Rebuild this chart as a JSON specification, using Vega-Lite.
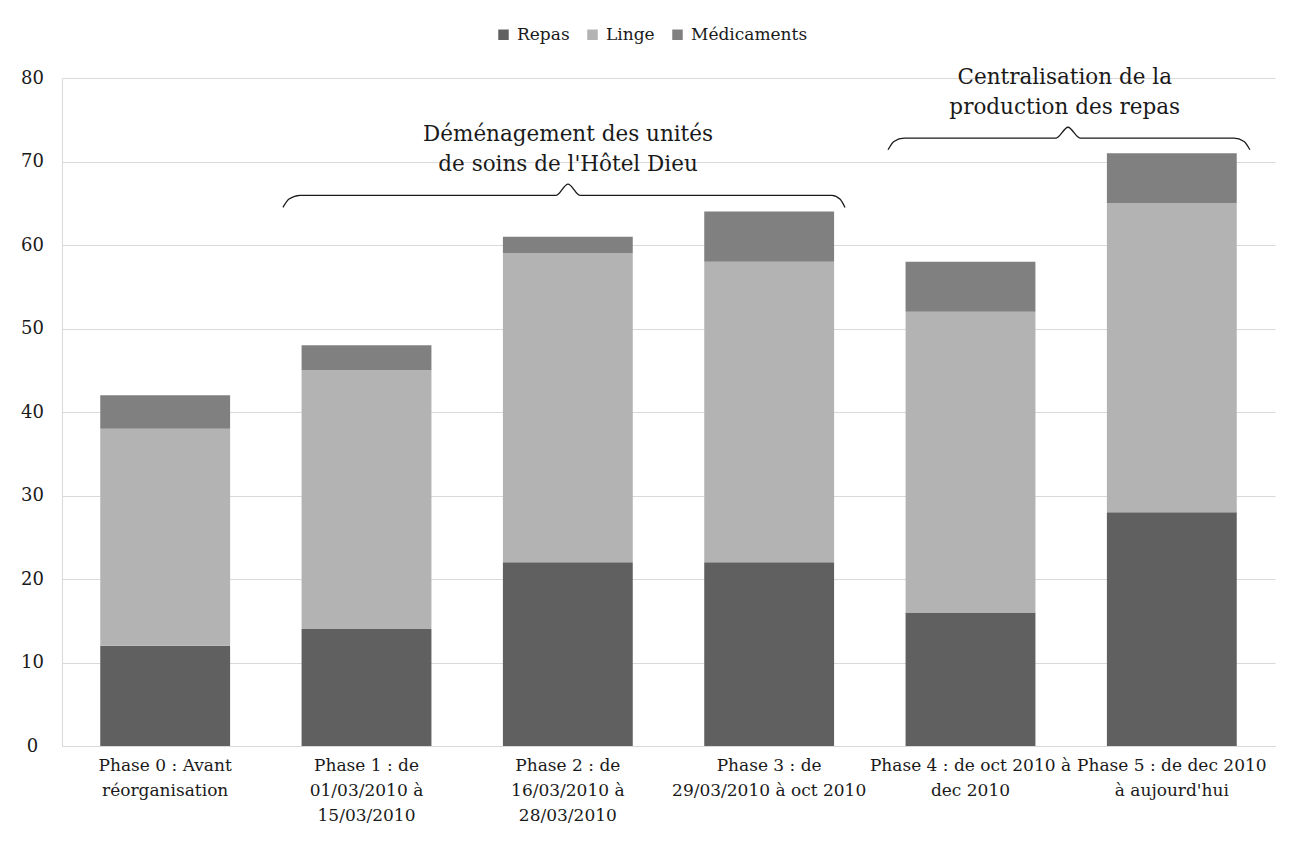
{
  "$schema": "https://vega.github.io/schema/vega-lite/v6.json",
  "width": 1213,
  "height": 668,
  "autosize": "none",
  "padding": {"left": 62, "top": 78, "right": 25, "bottom": 99},
  "background": "white",
  "config": {
    "font": "DejaVu Serif",
    "view": {"stroke": null},
    "axis": {"labelFont": "DejaVu Serif", "labelColor": "#1a1a1a"},
    "legend": {"labelFont": "DejaVu Serif", "labelColor": "#1a1a1a"}
  },
  "datasets": {
    "bars": [
      {"phase": "Phase 0 : Avant|réorganisation", "serie": "Repas", "rang": 1, "valeur": 12},
      {"phase": "Phase 0 : Avant|réorganisation", "serie": "Linge", "rang": 2, "valeur": 26},
      {"phase": "Phase 0 : Avant|réorganisation", "serie": "Médicaments", "rang": 3, "valeur": 4},
      {"phase": "Phase 1 : de|01/03/2010 à|15/03/2010", "serie": "Repas", "rang": 1, "valeur": 14},
      {"phase": "Phase 1 : de|01/03/2010 à|15/03/2010", "serie": "Linge", "rang": 2, "valeur": 31},
      {"phase": "Phase 1 : de|01/03/2010 à|15/03/2010", "serie": "Médicaments", "rang": 3, "valeur": 3},
      {"phase": "Phase 2 : de|16/03/2010 à|28/03/2010", "serie": "Repas", "rang": 1, "valeur": 22},
      {"phase": "Phase 2 : de|16/03/2010 à|28/03/2010", "serie": "Linge", "rang": 2, "valeur": 37},
      {"phase": "Phase 2 : de|16/03/2010 à|28/03/2010", "serie": "Médicaments", "rang": 3, "valeur": 2},
      {"phase": "Phase 3 : de|29/03/2010 à oct 2010", "serie": "Repas", "rang": 1, "valeur": 22},
      {"phase": "Phase 3 : de|29/03/2010 à oct 2010", "serie": "Linge", "rang": 2, "valeur": 36},
      {"phase": "Phase 3 : de|29/03/2010 à oct 2010", "serie": "Médicaments", "rang": 3, "valeur": 6},
      {"phase": "Phase 4 : de oct 2010 à|dec 2010", "serie": "Repas", "rang": 1, "valeur": 16},
      {"phase": "Phase 4 : de oct 2010 à|dec 2010", "serie": "Linge", "rang": 2, "valeur": 36},
      {"phase": "Phase 4 : de oct 2010 à|dec 2010", "serie": "Médicaments", "rang": 3, "valeur": 6},
      {"phase": "Phase 5 : de dec 2010|à aujourd'hui", "serie": "Repas", "rang": 1, "valeur": 28},
      {"phase": "Phase 5 : de dec 2010|à aujourd'hui", "serie": "Linge", "rang": 2, "valeur": 37},
      {"phase": "Phase 5 : de dec 2010|à aujourd'hui", "serie": "Médicaments", "rang": 3, "valeur": 6}
    ],
    "braces": [
      {"b": "A", "x": 1.093, "y": 64.5},
      {"b": "A", "x": 1.123, "y": 65.5},
      {"b": "A", "x": 1.177, "y": 65.95},
      {"b": "A", "x": 2.444, "y": 65.95},
      {"b": "A", "x": 2.503, "y": 67.3},
      {"b": "A", "x": 2.562, "y": 65.95},
      {"b": "A", "x": 3.809, "y": 65.95},
      {"b": "A", "x": 3.848, "y": 65.5},
      {"b": "A", "x": 3.873, "y": 64.5},
      {"b": "B", "x": 4.086, "y": 71.4},
      {"b": "B", "x": 4.115, "y": 72.4},
      {"b": "B", "x": 4.165, "y": 72.8},
      {"b": "B", "x": 4.917, "y": 72.8},
      {"b": "B", "x": 4.976, "y": 74.1},
      {"b": "B", "x": 5.036, "y": 72.8},
      {"b": "B", "x": 5.797, "y": 72.8},
      {"b": "B", "x": 5.847, "y": 72.4},
      {"b": "B", "x": 5.876, "y": 71.4}
    ],
    "notes": [
      {"x": 2.503, "y": 73.2, "t": "Déménagement  des unités"},
      {"x": 2.503, "y": 69.6, "t": "de soins de l'Hôtel Dieu"},
      {"x": 4.96, "y": 80.0, "t": "Centralisation de la"},
      {"x": 4.96, "y": 76.4, "t": "production des repas"}
    ]
  },
  "resolve": {"scale": {"x": "independent"}},
  "layer": [
    {
      "data": {"name": "bars"},
      "mark": {"type": "bar"},
      "encoding": {
        "x": {
          "field": "phase", "type": "nominal", "sort": null,
          "scale": {"paddingInner": 0.355, "paddingOuter": 0.19},
          "axis": {
            "title": null, "labelAngle": 0, "labelExpr": "split(datum.label, '|')",
            "labelFontSize": 17, "labelLineHeight": 25, "labelPadding": 11,
            "ticks": false, "domainColor": "#d9d9d9", "labelBaseline": "top", "labelLimit": 300
          }
        },
        "y": {
          "field": "valeur", "type": "quantitative", "stack": "zero",
          "scale": {"domain": [0, 80], "nice": false},
          "axis": {
            "title": null, "values": [0, 10, 20, 30, 40, 50, 60, 70, 80],
            "ticks": false, "labelAlign": "center", "labelPadding": 30,
            "labelFontSize": 18, "gridColor": "#d9d9d9", "domainColor": "#d9d9d9"
          }
        },
        "color": {
          "field": "serie", "type": "nominal",
          "sort": ["Repas", "Linge", "Médicaments"],
          "scale": {"domain": ["Repas", "Linge", "Médicaments"], "range": ["#606060", "#b3b3b3", "#808080"]},
          "legend": {
            "title": null, "orient": "none", "direction": "horizontal",
            "legendX": 433, "legendY": -52, "symbolType": "square", "symbolSize": 110,
            "symbolStrokeWidth": 0, "labelFontSize": 17, "columnPadding": 14, "labelOffset": 5
          }
        },
        "order": {"field": "rang", "type": "quantitative", "sort": "ascending"}
      }
    },
    {
      "data": {"name": "braces"},
      "mark": {"type": "line", "interpolate": "monotone", "color": "#1a1a1a", "strokeWidth": 1.3, "clip": false},
      "encoding": {
        "x": {"field": "x", "type": "quantitative", "scale": {"domain": [0, 6], "nice": false}, "axis": null},
        "y": {"field": "y", "type": "quantitative"},
        "detail": {"field": "b"}
      }
    },
    {
      "data": {"name": "notes"},
      "mark": {"type": "text", "fontSize": 21.5, "color": "#1a1a1a", "font": "DejaVu Serif"},
      "encoding": {
        "x": {"field": "x", "type": "quantitative", "scale": {"domain": [0, 6], "nice": false}, "axis": null},
        "y": {"field": "y", "type": "quantitative"},
        "text": {"field": "t"}
      }
    }
  ]
}
